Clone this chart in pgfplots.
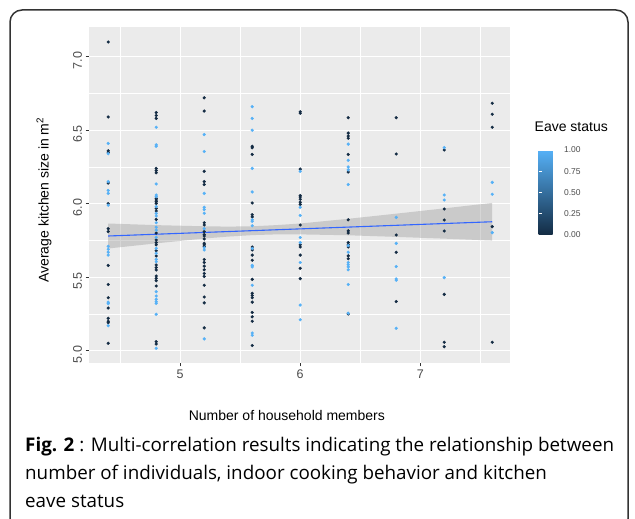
\documentclass[border=0pt]{standalone}
\usepackage{fontspec}
\setmainfont{Liberation Sans}
\newfontfamily\capfont{Open Sans}
\usepackage{pgfplots}
\usetikzlibrary{calc}
\pgfplotsset{compat=1.18}
\definecolor{darkpt}{HTML}{132B43}
\definecolor{lightpt}{HTML}{56B1F7}
\definecolor{panelbg}{HTML}{EBEBEB}
\definecolor{ticklab}{HTML}{4D4D4D}
\definecolor{tickc}{HTML}{333333}
\definecolor{smoothline}{HTML}{3366FF}
\begin{document}
\begin{tikzpicture}
\useasboundingbox (0,0) rectangle (635bp,519bp);
\fill[white] (0,0) rectangle (635bp,519bp);
\draw[line width=1.5bp, color=black!80, rounded corners=12bp] (10bp,-12bp) rectangle (628bp,509bp);
\begin{axis}[
  at={(89bp,156bp)}, anchor=south west,
  scale only axis, width=421bp, height=336bp,
  xmin=4.24, xmax=7.748, ymin=4.916, ymax=7.202,
  axis background/.style={fill=panelbg},
  axis line style={draw=none},
  xtick={5,6,7}, ytick={5,5.5,6,6.5,7},
  yticklabels={5.0,5.5,6.0,6.5,7.0},
  minor xtick={4.5,5.5,6.5,7.5}, minor ytick={5.25,5.75,6.25,6.75},
  grid=both,
  major grid style={white, line width=1.1bp},
  minor grid style={white, line width=0.55bp},
  tick align=outside, tick pos=left,
  major tick length=3.5bp, minor tick length=0pt,
  tick style={color=tickc, line width=0.8bp},
  /pgf/number format/assume math mode=true,
  xticklabel style={font=\fontsize{12.5bp}{14bp}\selectfont, text=ticklab},
  yticklabel style={font=\fontsize{12.5bp}{14bp}\selectfont, text=ticklab, rotate=90, anchor=south, xshift=-4bp},
  xlabel={Number of household members},
  ylabel={Average kitchen size in m\textsuperscript{2}},
  xlabel style={font=\fontsize{14bp}{16bp}\selectfont, at={(axis description cs:0.470,-0.155)}, anchor=center},
  ylabel style={font=\fontsize{14bp}{16bp}\selectfont, at={(axis description cs:-0.107,0.485)}, anchor=center, rotate=0},
  colormap={gg}{rgb255=(19,43,67) rgb255=(86,177,247)},
  point meta min=0, point meta max=1,
  colorbar,
  colorbar style={
    at={($(parent axis.south east)+(20bp,128bp)$)}, anchor=south west,
    scale only axis, width=19bp, height=85bp,
    axis line style={draw=none},
    ytick={0,0.25,0.5,0.75,1}, yticklabels={0.00,0.25,0.50,0.75,1.00},
    yticklabel pos=right, ytick pos=both,
    tick align=inside, major tick length=3.5bp,
    tick style={white, line width=0.8bp},
    yticklabel style={font=\fontsize{8.5bp}{10bp}\selectfont, text=ticklab, xshift=3bp},
    title={Eave status},
    title style={at={(0,1)}, anchor=base west, xshift=-4bp, yshift=13bp, font=\fontsize{14bp}{16bp}\selectfont, inner sep=0pt},
  },
]
% Eave status = 0
\addplot[only marks, mark=*, mark size=1.4bp, color=darkpt] coordinates {
(4.4,7.10) (4.4,6.59) (4.4,6.36) (4.4,6.35) (4.4,6.14) (4.4,6.00) (4.4,5.83) (4.4,5.81) (4.4,5.58) (4.4,5.45) (4.4,5.36) (4.4,5.29) (4.4,5.22) (4.4,5.20) (4.4,5.19) (4.4,5.05)
(4.8,6.62) (4.8,6.60) (4.8,6.58) (4.8,6.24) (4.8,6.225) (4.8,6.21) (4.8,6.036) (4.8,6.025) (4.8,6.014) (4.8,6.002) (4.8,5.968) (4.8,5.95) (4.8,5.893) (4.8,5.80) (4.8,5.753) (4.8,5.735) (4.8,5.72) (4.8,5.68) (4.8,5.644) (4.8,5.583) (4.8,5.565) (4.8,5.549) (4.8,5.508) (4.8,5.492) (4.8,5.476) (4.8,5.44) (4.8,5.061) (4.8,5.045)
(5.2,6.72) (5.2,6.63) (5.2,6.22) (5.2,6.15) (5.2,6.13) (5.2,5.87) (5.2,5.855) (5.2,5.81) (5.2,5.79) (5.2,5.78) (5.2,5.76) (5.2,5.73) (5.2,5.72) (5.2,5.71) (5.2,5.62) (5.2,5.60) (5.2,5.575) (5.2,5.55) (5.2,5.525) (5.2,5.505) (5.2,5.445) (5.2,5.365) (5.2,5.325) (5.2,5.155)
(5.6,6.39) (5.6,6.38) (5.6,6.335) (5.6,6.005) (5.6,5.925) (5.6,5.91) (5.6,5.705) (5.6,5.685) (5.6,5.65) (5.6,5.615) (5.6,5.485) (5.6,5.39) (5.6,5.375) (5.6,5.36) (5.6,5.33) (5.6,5.26) (5.6,5.23) (5.6,5.20) (5.6,5.035)
(6.0,6.625) (6.0,6.615) (6.0,6.235) (6.0,6.055) (6.0,6.045) (6.0,6.03) (6.0,6.01) (6.0,5.995) (6.0,5.855) (6.0,5.72) (6.0,5.705) (6.0,5.65) (6.0,5.56) (6.0,5.49)
(6.4,6.585) (6.4,6.48) (6.4,6.46) (6.4,6.445) (6.4,6.335) (6.4,6.215) (6.4,5.89) (6.4,5.815) (6.4,5.80) (6.4,5.735) (6.4,5.72) (6.4,5.705) (6.4,5.645) (6.4,5.625) (6.4,5.25)
(6.8,6.585) (6.8,6.338) (6.8,5.787) (6.8,5.669) (6.8,5.334)
(7.2,6.365) (7.2,5.964) (7.2,5.889) (7.2,5.814) (7.2,5.383) (7.2,5.057) (7.2,5.027)
(7.6,6.683) (7.6,6.608) (7.6,6.52) (7.6,5.844) (7.6,5.057)
};
% Eave status = 1
\addplot[only marks, mark=*, mark size=1.4bp, color=lightpt] coordinates {
(4.4,6.41) (4.4,6.34) (4.4,6.15) (4.4,6.09) (4.4,6.07) (4.4,5.99) (4.4,5.71) (4.4,5.69) (4.4,5.67) (4.4,5.65) (4.4,5.33) (4.4,5.32) (4.4,5.17)
(4.8,6.52) (4.8,6.40) (4.8,6.39) (4.8,6.134) (4.8,6.059) (4.8,6.048) (4.8,5.98) (4.8,5.934) (4.8,5.916) (4.8,5.87) (4.8,5.84) (4.8,5.82) (4.8,5.771) (4.8,5.696) (4.8,5.662) (4.8,5.621) (4.8,5.605) (4.8,5.401) (4.8,5.372) (4.8,5.349) (4.8,5.333) (4.8,5.322) (4.8,5.247) (4.8,5.016)
(5.2,6.47) (5.2,6.355) (5.2,6.07) (5.2,5.975) (5.2,5.96) (5.2,5.935) (5.2,5.83) (5.2,5.70) (5.2,5.685) (5.2,5.08)
(5.6,6.66) (5.6,6.58) (5.6,6.50) (5.6,6.24) (5.6,6.08) (5.6,5.89) (5.6,5.88) (5.6,5.85) (5.6,5.695) (5.6,5.58) (5.6,5.57) (5.6,5.445) (5.6,5.12) (5.6,5.105)
(6.0,6.22) (6.0,5.975) (6.0,5.92) (6.0,5.77) (6.0,5.735) (6.0,5.60) (6.0,5.31) (6.0,5.21)
(6.4,6.405) (6.4,6.295) (6.4,6.25) (6.4,6.23) (6.4,6.13) (6.4,5.715) (6.4,5.67) (6.4,5.60) (6.4,5.585) (6.4,5.57) (6.4,5.55) (6.4,5.45) (6.4,5.255)
(6.8,5.907) (6.8,5.730) (6.8,5.572) (6.8,5.488) (6.8,5.479) (6.8,5.152)
(7.2,6.381) (7.2,6.059) (7.2,6.025) (7.2,5.497)
(7.6,6.145) (7.6,6.064) (7.6,5.803)
};
% confidence band
\addplot[fill=black!40, fill opacity=0.4, draw=none] coordinates {
(4.4,5.865) (4.8,5.854) (5.2,5.846) (5.4,5.844) (5.6,5.846) (5.8,5.854) (6.0,5.865) (6.4,5.897) (6.8,5.932) (7.2,5.968) (7.6,6.005)
(7.6,5.749) (7.2,5.762) (6.8,5.774) (6.4,5.785) (6.0,5.791) (5.8,5.791) (5.6,5.786) (5.4,5.776) (5.2,5.763) (4.8,5.730) (4.4,5.695)
};
% fitted line
\addplot[smoothline, line width=1.1bp] coordinates {(4.4,5.780) (7.6,5.877)};
\end{axis}
\node[anchor=base west, inner sep=0pt] at (25bp,67bp) {\capfont\fontsize{18.8bp}{22bp}\selectfont\textbf{Fig. 2} : Multi-correlation results indicating the relationship between};
\node[anchor=base west, inner sep=0pt] at (25bp,39.5bp) {\capfont\fontsize{18.8bp}{22bp}\selectfont number of individuals, indoor cooking behavior and kitchen};
\node[anchor=base west, inner sep=0pt] at (25bp,12bp) {\capfont\fontsize{18.8bp}{22bp}\selectfont eave status};
\end{tikzpicture}
\end{document}
